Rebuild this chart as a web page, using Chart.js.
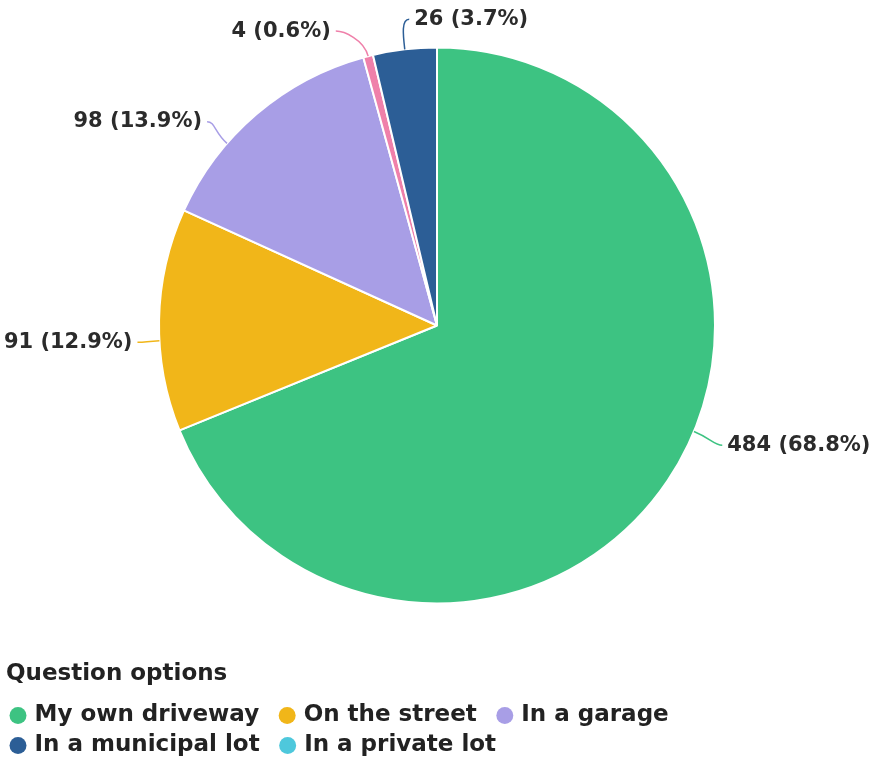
<!DOCTYPE html>
<html>
<head>
<meta charset="utf-8">
<script src="https://cdn.jsdelivr.net/npm/chart.js@4.4.1/dist/chart.umd.min.js"></script>
<style>
  html, body { margin: 0; padding: 0; background: #fff; }
  #wrap { position: relative; width: 871px; height: 767px; }
</style>
</head>
<body>
<div id="wrap"><canvas id="parkingChart"></canvas></div>
<script>
// slices, in drawing order (clockwise from 12 o'clock)
const sliceLabels = ['My own driveway', 'On the street', 'In a garage', 'Other', 'In a municipal lot'];
const sliceValues = [484, 91, 98, 4, 26];
const sliceColors = ['#3dc382', '#f1b619', '#a89ee6', '#ef80aa', '#2c5e96'];

// legend entries as listed under the chart
const legendLabels = ['My own driveway', 'On the street', 'In a garage', 'In a municipal lot', 'In a private lot'];
const legendColors = ['#3dc382', '#f1b619', '#a89ee6', '#2c5e96', '#4ec8dc'];

const FONT = '"DejaVu Sans", Arial, sans-serif';

// outside labels with curved leader lines
const outsideLabels = {
  id: 'outsideLabels',
  afterDatasetsDraw(chart, args, opts) {
    const ctx = chart.ctx;
    const meta = chart.getDatasetMeta(0);
    const total = sliceValues.reduce((a, b) => a + b, 0);
    ctx.save();
    ctx.font = 'bold 21px ' + FONT;
    ctx.textBaseline = 'middle';
    meta.data.forEach((arc, i) => {
      const p = arc.getProps(['x', 'y', 'startAngle', 'endAngle', 'outerRadius'], true);
      const mid = (p.startAngle + p.endAngle) / 2;
      const span = p.endAngle - p.startAngle;
      const labelAng = mid + (opts.nudge[i] || 0) * Math.PI / 180;
      // connector starts on the rim; thin slices use their middle
      let startAng = Math.min(Math.max(labelAng, p.startAngle + span * 0.3), p.endAngle - span * 0.3);
      if (span < Math.PI / 9) startAng = mid;
      const r = p.outerRadius;
      const gap = opts.gap[i];
      const sx = p.x + r * Math.cos(startAng), sy = p.y + r * Math.sin(startAng);
      const tx = p.x + (r + gap) * Math.cos(labelAng), ty = p.y + (r + gap) * Math.sin(labelAng);
      const sign = opts.side[i];
      const ex = tx - sign * 5;
      const c1x = p.x + (r + gap * 0.5) * Math.cos(startAng);
      const c1y = p.y + (r + gap * 0.5) * Math.sin(startAng);

      ctx.strokeStyle = sliceColors[i];
      ctx.lineWidth = 1.5;
      ctx.beginPath();
      ctx.moveTo(sx, sy);
      ctx.bezierCurveTo(c1x, c1y, ex - sign * 8, ty, ex, ty);
      ctx.stroke();

      const pct = (sliceValues[i] / total * 100).toFixed(1);
      ctx.fillStyle = '#2b2b2b';
      ctx.textAlign = sign > 0 ? 'left' : 'right';
      ctx.fillText(sliceValues[i] + ' (' + pct + '%)', tx, ty);
    });
    ctx.restore();
  }
};

const ctx = document.getElementById('parkingChart');

new Chart(ctx, {
  type: 'pie',
  data: {
    labels: sliceLabels,
    datasets: [{
      data: sliceValues,
      backgroundColor: sliceColors,
      borderColor: '#ffffff',
      borderWidth: 2
    }]
  },
  plugins: [outsideLabels],
  options: {
    responsive: true,
    maintainAspectRatio: false,
    animation: false,
    radius: 278,
    layout: { padding: { top: 50, left: 6, right: 3, bottom: 0 } },
    plugins: {
      tooltip: { enabled: false },
      outsideLabels: {
        nudge: [-11.5, -4.3, -8.6, -5.5, 2.4],
        gap: [36, 27, 33, 35, 29],
        side: [1, -1, -1, -1, 1]
      },
      legend: {
        position: 'bottom',
        align: 'start',
        onClick: null,
        title: {
          display: true,
          text: 'Question options',
          position: 'start',
          color: '#222',
          font: { family: FONT, size: 23, weight: 'bold' },
          padding: { top: 62, bottom: 6.4 }
        },
        labels: {
          usePointStyle: true,
          pointStyle: 'circle',
          boxWidth: 10,
          boxHeight: 12,
          padding: 7,
          color: '#222',
          font: { family: FONT, size: 23, weight: 'bold' },
          // trailing spaces widen the gap between entries without raising the rows
          generateLabels: () => legendLabels.map((t, i) => ({
            text: t + '  ',
            fillStyle: legendColors[i],
            strokeStyle: legendColors[i],
            lineWidth: 0,
            pointStyle: 'circle',
            hidden: false,
            index: i
          }))
        }
      }
    }
  }
});
</script>
</body>
</html>
